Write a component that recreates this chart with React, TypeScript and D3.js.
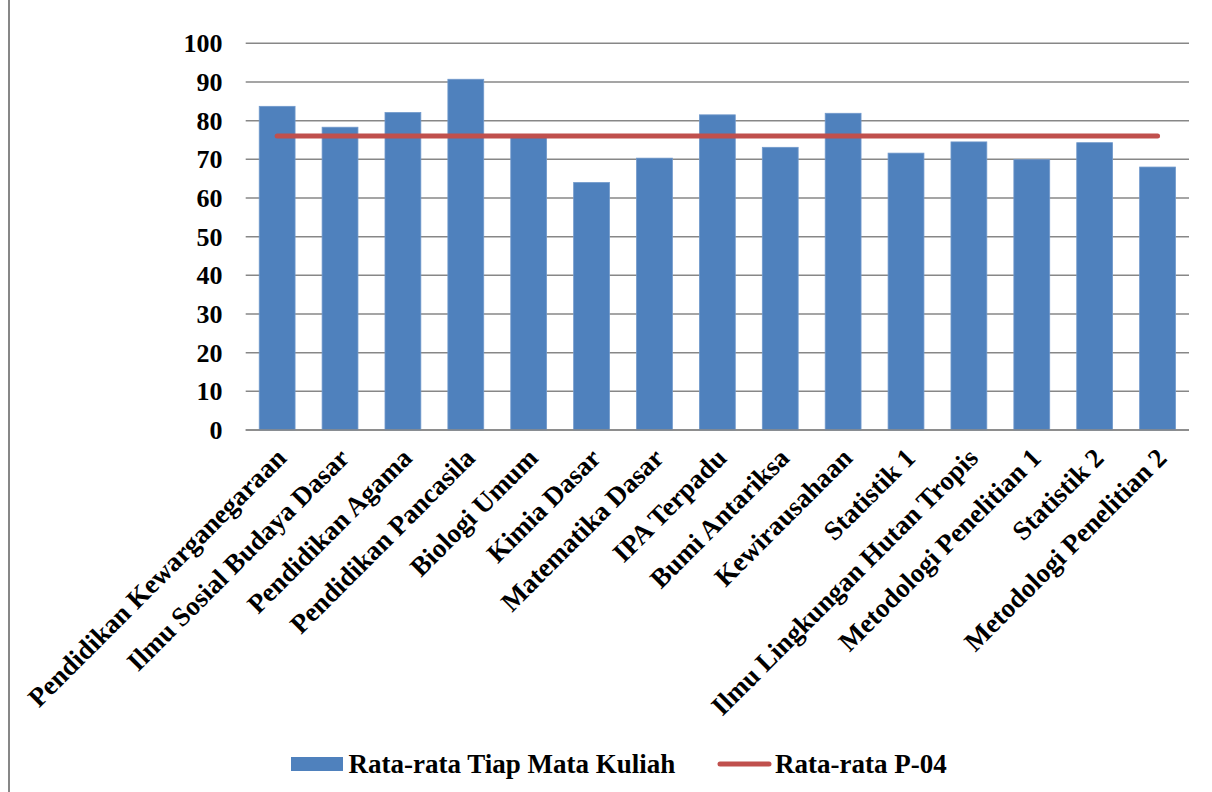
import React from "react";
import * as d3 from "d3";

const categories = [
  "Pendidikan Kewarganegaraan",
  "Ilmu Sosial Budaya Dasar",
  "Pendidikan Agama",
  "Pendidikan Pancasila",
  "Biologi Umum",
  "Kimia Dasar",
  "Matematika Dasar",
  "IPA Terpadu",
  "Bumi Antariksa",
  "Kewirausahaan",
  "Statistik 1",
  "Ilmu Lingkungan Hutan Tropis",
  "Metodologi Penelitian 1",
  "Statistik 2",
  "Metodologi Penelitian 2",
];

const rataMataKuliah = [83.7, 78.3, 82.1, 90.7, 76.4, 64.0, 70.3, 81.5, 73.1, 81.9, 71.6, 74.5, 69.9, 74.3, 68.0];
const rataP04 = [76.0, 76.0, 76.0, 76.0, 76.0, 76.0, 76.0, 76.0, 76.0, 76.0, 76.0, 76.0, 76.0, 76.0, 76.0];
const yTicks = [0, 10, 20, 30, 40, 50, 60, 70, 80, 90, 100];
const seriesNames = ["Rata-rata Tiap Mata Kuliah", "Rata-rata P-04"];

const W = 1212;
const H = 792;
const FONT = "'Liberation Serif', 'Times New Roman', serif";
const BLUE = "#4F81BD";
const RED = "#C0504D";
const GRID = "#878787";

export default function App() {
  const x = d3
    .scaleBand<string>()
    .domain(categories)
    .range([245.7, 1189])
    .paddingInner(0.43)
    .paddingOuter(0.215);
  const y = d3.scaleLinear().domain([0, 100]).range([430, 43.3]);

  const line = d3
    .line<number>()
    .x((_, i) => (x(categories[i]) as number) + x.bandwidth() / 2)
    .y((d) => y(d));

  return (
    <svg
      width={W}
      height={H}
      style={{ position: "absolute", left: 0, top: 0, background: "#fff" }}
      fontFamily={FONT}
    >
      <rect x={0} y={0} width={W} height={H} fill="#fff" />
      <line x1={9} x2={9} y1={0} y2={H} stroke={GRID} strokeWidth={2} />

      {yTicks.map((t) => (
        <line
          key={"g" + t}
          x1={245.7}
          x2={1189}
          y1={y(t)}
          y2={y(t)}
          stroke={GRID}
          strokeWidth={1.5}
        />
      ))}

      {yTicks.map((t) => (
        <text
          key={"t" + t}
          x={222.5}
          y={y(t)}
          dy="0.35em"
          textAnchor="end"
          fontSize={26}
          fontWeight="bold"
          fill="#000"
        >
          {t}
        </text>
      ))}

      {rataMataKuliah.map((v, i) => (
        <rect
          key={"b" + i}
          x={x(categories[i]) as number}
          y={y(v)}
          width={x.bandwidth()}
          height={y(0) - y(v)}
          fill={BLUE}
          stroke="#7199CB"
          strokeWidth={0.8}
        />
      ))}

      <line x1={245.7} x2={1189} y1={y(0)} y2={y(0)} stroke={GRID} strokeWidth={1.5} />

      <path
        d={line(rataP04) as string}
        fill="none"
        stroke={RED}
        strokeWidth={5}
        strokeLinecap="round"
      />

      {categories.map((c) => {
        const cx = (x(c) as number) + x.bandwidth() / 2;
        return (
          <text
            key={"c" + c}
            transform={`translate(${cx + 4},${453}) rotate(-45)`}
            dy="0.35em"
            textAnchor="end"
            fontSize={27}
            fontWeight="bold"
            fill="#000"
          >
            {c}
          </text>
        );
      })}

      <rect x={291} y={757} width={52} height={14} fill={BLUE} />
      <text x={348.5} y={773} fontSize={27} fontWeight="bold" fill="#000">
        {seriesNames[0]}
      </text>
      <line x1={720} x2={769} y1={764} y2={764} stroke={RED} strokeWidth={5} strokeLinecap="round" />
      <text x={775} y={773} fontSize={27} fontWeight="bold" fill="#000">
        {seriesNames[1]}
      </text>
    </svg>
  );
}
